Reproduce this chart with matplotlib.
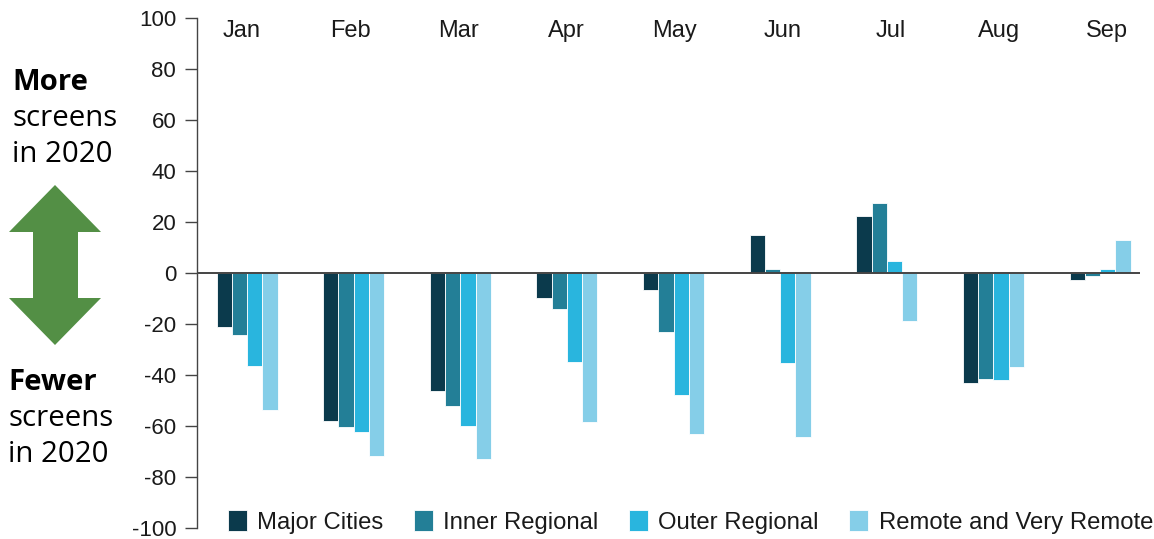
import matplotlib
matplotlib.use("Agg")
import matplotlib.pyplot as plt
import numpy as np
from matplotlib.patches import Polygon

months = ["Jan", "Feb", "Mar", "Apr", "May", "Jun", "Jul", "Aug", "Sep"]
series_names = ["Major Cities", "Inner Regional", "Outer Regional", "Remote and Very Remote"]
major_cities = [-21.2, -58.0, -46.2, -9.9, -6.5, 15.0, 22.2, -43.0, -2.8]
inner_regional = [-24.4, -60.2, -52.1, -14.0, -23.1, 1.4, 27.5, -41.5, -1.2]
outer_regional = [-36.3, -62.3, -60.1, -34.8, -47.8, -35.4, 4.8, -42.0, 1.4]
remote = [-53.7, -71.7, -73.1, -58.6, -63.2, -64.5, -19.0, -36.8, 13.0]
yticks = [100, 80, 60, 40, 20, 0, -20, -40, -60, -80, -100]
colors = ["#0B3A4C", "#237F97", "#29B5DE", "#85CEE8"]

W, H = 1154, 539
fig = plt.figure(figsize=(W / 100, H / 100), dpi=100)
ax = fig.add_axes([197 / W, 11 / H, (1140 - 197) / W, (528 - 18) / H])

x = np.arange(len(months))
bw = 0.143
data = [major_cities, inner_regional, outer_regional, remote]
for i, (vals, c, name) in enumerate(zip(data, colors, series_names)):
    ax.bar(x + (i - 1.5) * bw, vals, width=bw, color=c, edgecolor="white",
           linewidth=0.6, label=name, zorder=2)

ax.set_xlim(-0.469, 8.375)
ax.set_ylim(-100, 100)
ax.set_yticks(yticks)
ax.set_yticklabels([str(t) for t in yticks], fontsize=16, color="#1a1a1a",
                   family="Liberation Sans")
ax.set_xticks([])
ax.axhline(0, color="#444444", linewidth=1.4, zorder=3)
for s in ["top", "right", "bottom"]:
    ax.spines[s].set_visible(False)
ax.spines["left"].set_color("#444444")
ax.spines["left"].set_linewidth(1.0)
ax.tick_params(axis="y", length=9, width=1.0, color="#444444", pad=6)

for i, m in enumerate(months):
    ax.text(-0.047 + i * 1.014, 95.0, m, ha="center", va="center", fontsize=17,
            color="#1a1a1a", family="Liberation Sans")

leg = ax.legend(loc="center left", bbox_to_anchor=(228 / W, (539 - 522) / H),
                bbox_transform=fig.transFigure, ncol=4, frameon=False,
                prop={"family": "Liberation Sans", "size": 17.2},
                handlelength=0.78, handleheight=0.95, handletextpad=0.45,
                columnspacing=1.27, borderpad=0, borderaxespad=0)
for t in leg.get_texts():
    t.set_color("#1a1a1a")

# Left annotation
fs = 21.2
fig.text(12 / W, 1 - 82 / H, "More", fontsize=fs, fontweight="bold",
         family="Open Sans", va="center", ha="left")
fig.text(12 / W, 1 - 119 / H, "screens", fontsize=fs, family="Open Sans",
         va="center", ha="left")
fig.text(12 / W, 1 - 155 / H, "in 2020", fontsize=fs, family="Open Sans",
         va="center", ha="left")
fig.text(8 / W, 1 - 382 / H, "Fewer", fontsize=fs, fontweight="bold",
         family="Open Sans", va="center", ha="left")
fig.text(8 / W, 1 - 418 / H, "screens", fontsize=fs, family="Open Sans",
         va="center", ha="left")
fig.text(8 / W, 1 - 454 / H, "in 2020", fontsize=fs, family="Open Sans",
         va="center", ha="left")

# Double arrow
cx = 55
pts = [(cx, 185), (101, 232), (78, 232), (78, 298), (101, 298), (cx, 345),
       (9, 298), (33, 298), (33, 232), (9, 232)]
pts_fig = [(px / W, 1 - py / H) for px, py in pts]
fig.patches.append(Polygon(pts_fig, closed=True, transform=fig.transFigure,
                           facecolor="#538F45", edgecolor="none"))

fig.savefig("out.png", dpi=100)
